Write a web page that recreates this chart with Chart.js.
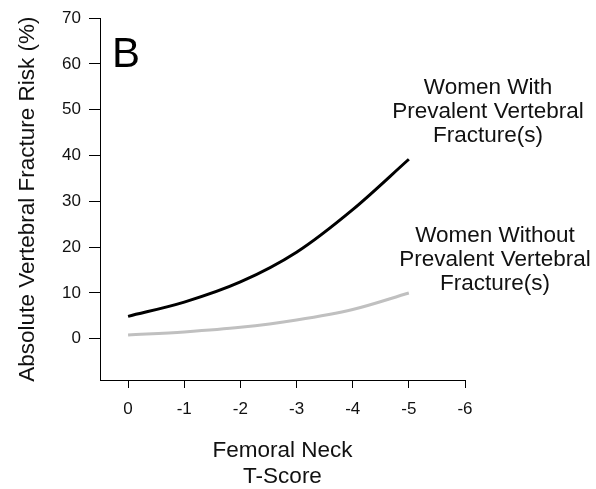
<!DOCTYPE html>
<html>
<head>
<meta charset="utf-8">
<script src="https://cdn.jsdelivr.net/npm/chart.js@4"></script>
<style>
  html, body { margin: 0; padding: 0; background: #fff; }
</style>
</head>
<body>
<canvas id="riskChart" width="596" height="489"></canvas>
<script>
// T-score values (x) and risk (%)
var tScores = [0, -1, -2, -3, -4, -5];
var withFracture = [4.9, 8.0, 12.4, 18.9, 28.2, 39.2];
var withoutFracture = [0.8, 1.5, 2.5, 4.1, 6.4, 10.0];

// tick labels
var xTicks = [0, -1, -2, -3, -4, -5, -6];
var yTicks = [0, 10, 20, 30, 40, 50, 60, 70];

// text
var panelLetter = 'B';
var withLabel = ['Women With', 'Prevalent Vertebral', 'Fracture(s)'];
var withoutLabel = ['Women Without', 'Prevalent Vertebral', 'Fracture(s)'];
var xTitle = ['Femoral Neck', 'T-Score'];
var yTitle = 'Absolute Vertebral Fracture Risk (%)';

Chart.defaults.font.family = "'Liberation Sans', Arial, sans-serif";
Chart.defaults.color = '#111';

function toPoints(ys) {
  var pts = [];
  for (var i = 0; i < tScores.length; i++) {
    pts.push({ x: tScores[i], y: ys[i] });
  }
  return pts;
}

// annotations drawn on top of the chart
var labelsPlugin = {
  id: 'labels',
  afterDraw: function(chart) {
    var c = chart.ctx;
    c.save();
    c.fillStyle = '#000';
    c.textBaseline = 'alphabetic';
    c.textAlign = 'left';
    c.font = "42px 'Liberation Sans', Arial, sans-serif";
    c.fillText(panelLetter, 112, 67);

    c.fillStyle = '#111';
    c.textAlign = 'center';
    c.font = "22.5px 'Liberation Sans', Arial, sans-serif";
    for (var i = 0; i < withLabel.length; i++) {
      c.fillText(withLabel[i], 488, 93.5 + i * 24.3);
    }
    for (var j = 0; j < withoutLabel.length; j++) {
      c.fillText(withoutLabel[j], 495, 241.5 + j * 24.3);
    }
    c.restore();
  }
};

var ctx = document.getElementById('riskChart').getContext('2d');

var myChart = new Chart(ctx, {
  type: 'line',
  data: {
    datasets: [{
      label: 'Women With Prevalent Vertebral Fracture(s)',
      data: toPoints(withFracture),
      borderColor: '#000',
      borderWidth: 3,
      pointRadius: 0,
      cubicInterpolationMode: 'monotone',
      fill: false
    }, {
      label: 'Women Without Prevalent Vertebral Fracture(s)',
      data: toPoints(withoutFracture),
      borderColor: '#c0c0c0',
      borderWidth: 3,
      pointRadius: 0,
      cubicInterpolationMode: 'monotone',
      fill: false
    }]
  },
  options: {
    responsive: false,
    animation: false,
    events: [],
    layout: {
      padding: { top: 15.5, right: 131, bottom: 0, left: 0 }
    },
    plugins: {
      legend: { display: false },
      tooltip: { enabled: false }
    },
    scales: {
      x: {
        type: 'linear',
        reverse: true,
        min: -6,
        max: 0.5,
        afterBuildTicks: function(scale) {
          scale.ticks = xTicks.map(function(v) { return { value: v }; });
        },
        afterFit: function(scale) { scale.height = 109; },
        ticks: {
          font: { size: 17 },
          padding: 11,
          maxRotation: 0,
          callback: function(v) { return String(v); }
        },
        grid: {
          drawOnChartArea: false,
          drawTicks: true,
          tickLength: 8,
          color: '#000',
          lineWidth: 1
        },
        border: { display: true, color: '#000', width: 1 },
        title: {
          display: true,
          text: xTitle,
          font: { size: 22.5, lineHeight: 1.15 },
          padding: { top: 0, bottom: -1 }
        }
      },
      y: {
        type: 'linear',
        min: -9,
        max: 70,
        afterBuildTicks: function(scale) {
          scale.ticks = yTicks.map(function(v) { return { value: v }; });
        },
        afterFit: function(scale) { scale.width = 100; },
        ticks: {
          font: { size: 17 },
          padding: 8,
          callback: function(v) { return String(v); }
        },
        grid: {
          drawOnChartArea: false,
          drawTicks: true,
          tickLength: 11,
          color: '#000',
          lineWidth: 1
        },
        border: { display: true, color: '#000', width: 1 },
        title: {
          display: true,
          text: yTitle,
          font: { size: 22.5 },
          padding: { top: 14.5, bottom: 0 }
        }
      }
    }
  },
  plugins: [labelsPlugin]
});
</script>
</body>
</html>
